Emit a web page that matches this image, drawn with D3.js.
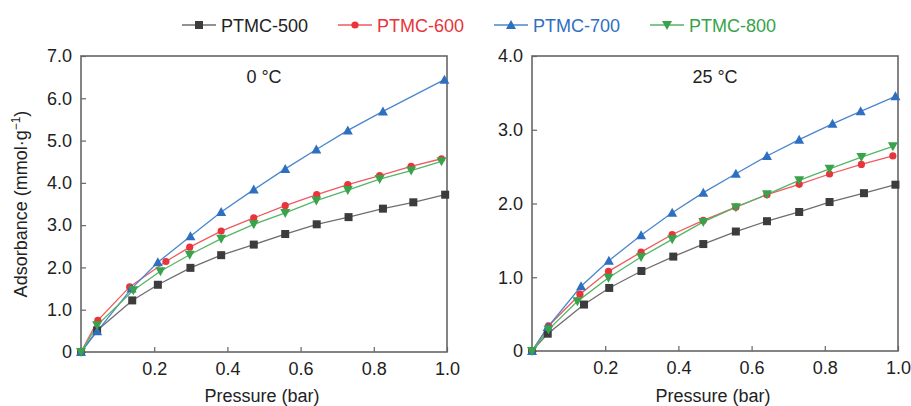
<!DOCTYPE html>
<html>
<head>
<meta charset="utf-8">
<script src="https://cdn.jsdelivr.net/npm/d3@7"></script>
<style>
  html, body { margin: 0; padding: 0; background: #fff; }
  svg { display: block; font-family: "Liberation Sans", Arial, sans-serif; }
</style>
</head>
<body>
<svg id="chart" width="911" height="406"></svg>
<script>
// Series names and colours
const seriesNames = ["PTMC-500", "PTMC-600", "PTMC-700", "PTMC-800"];
const seriesColors = ["#3c3c3c", "#e8343a", "#2e6fc0", "#38a34a"];
const lineColors = ["#6e6e6e", "#ee5a5f", "#4a86cf", "#55b566"];
const markerShapes = ["square", "circle", "triangle", "triangleDown"];

// 0 °C isotherms: pressure (bar) and uptake (mmol/g)
const p0_500 = [0, 0.044, 0.140, 0.210, 0.299, 0.383, 0.472, 0.558, 0.644, 0.731, 0.825, 0.908, 0.995];
const q0_500 = [0, 0.51, 1.22, 1.59, 1.99, 2.29, 2.54, 2.79, 3.02, 3.19, 3.39, 3.54, 3.72];
const p0_600 = [0, 0.046, 0.133, 0.232, 0.297, 0.383, 0.472, 0.558, 0.644, 0.729, 0.816, 0.902, 0.985];
const q0_600 = [0, 0.75, 1.54, 2.14, 2.48, 2.86, 3.17, 3.46, 3.72, 3.96, 4.17, 4.39, 4.57];
const p0_700 = [0, 0.044, 0.138, 0.210, 0.299, 0.383, 0.472, 0.558, 0.643, 0.729, 0.825, 0.993];
const q0_700 = [0, 0.49, 1.50, 2.12, 2.74, 3.31, 3.84, 4.33, 4.79, 5.24, 5.69, 6.44];
const p0_800 = [0, 0.044, 0.143, 0.217, 0.297, 0.383, 0.472, 0.558, 0.643, 0.729, 0.816, 0.902, 0.985];
const q0_800 = [0, 0.63, 1.46, 1.91, 2.30, 2.68, 3.02, 3.29, 3.58, 3.83, 4.09, 4.29, 4.51];

// 25 °C isotherms
const p25_500 = [0, 0.043, 0.142, 0.211, 0.299, 0.386, 0.468, 0.557, 0.642, 0.730, 0.813, 0.907, 0.993];
const q25_500 = [0, 0.235, 0.63, 0.855, 1.085, 1.28, 1.45, 1.62, 1.76, 1.885, 2.02, 2.14, 2.255];
const p25_600 = [0, 0.045, 0.131, 0.209, 0.298, 0.383, 0.468, 0.557, 0.642, 0.730, 0.813, 0.900, 0.986];
const q25_600 = [0, 0.34, 0.77, 1.08, 1.34, 1.58, 1.77, 1.95, 2.12, 2.26, 2.40, 2.53, 2.645];
const p25_700 = [0, 0.043, 0.134, 0.210, 0.298, 0.383, 0.468, 0.557, 0.642, 0.730, 0.821, 0.898, 0.993];
const q25_700 = [0, 0.325, 0.877, 1.225, 1.57, 1.875, 2.147, 2.404, 2.644, 2.866, 3.08, 3.25, 3.453];
const p25_800 = [0, 0.045, 0.124, 0.209, 0.298, 0.383, 0.468, 0.557, 0.642, 0.730, 0.813, 0.900, 0.986];
const q25_800 = [0, 0.29, 0.673, 0.994, 1.275, 1.514, 1.75, 1.95, 2.124, 2.314, 2.47, 2.63, 2.775];

// Axis ticks
const xTicks = [0.2, 0.4, 0.6, 0.8, 1.0];
const yTicks0 = [0, 1, 2, 3, 4, 5, 6, 7];
const yTicks25 = [0, 1, 2, 3, 4];

const panels = [
  { title: "0 °C", yMax: 7, yTicks: yTicks0, left: 81, right: 447, top: 56, bottom: 352,
    series: [[p0_500, q0_500], [p0_600, q0_600], [p0_700, q0_700], [p0_800, q0_800]] },
  { title: "25 °C", yMax: 4, yTicks: yTicks25, left: 532, right: 898, top: 56, bottom: 351,
    series: [[p25_500, q25_500], [p25_600, q25_600], [p25_700, q25_700], [p25_800, q25_800]] }
];

const svg = d3.select("#chart");
const fmt = v => v === 0 ? "0" : d3.format(".1f")(v);

function drawMarker(g, shape, x, y, color) {
  if (shape === "square") {
    g.append("rect").attr("x", x - 4).attr("y", y - 4).attr("width", 8).attr("height", 8).attr("fill", color);
  } else if (shape === "circle") {
    g.append("circle").attr("cx", x).attr("cy", y).attr("r", 3.6).attr("fill", color);
  } else if (shape === "triangle") {
    g.append("path").attr("d", `M${x},${y - 5}L${x + 5},${y + 4}L${x - 5},${y + 4}Z`).attr("fill", color);
  } else {
    g.append("path").attr("d", `M${x},${y + 5}L${x + 5},${y - 4}L${x - 5},${y - 4}Z`).attr("fill", color);
  }
}

panels.forEach(pn => {
  const x = d3.scaleLinear().domain([0, 1]).range([pn.left, pn.right]);
  const y = d3.scaleLinear().domain([0, pn.yMax]).range([pn.bottom, pn.top]);
  const g = svg.append("g");

  // Y axis with inward ticks
  const ya = g.append("g").attr("transform", `translate(${pn.left},0)`)
    .call(d3.axisLeft(y).tickValues(pn.yTicks).tickFormat(fmt).tickSizeInner(-5).tickSizeOuter(0).tickPadding(9));
  ya.select(".domain").remove();
  ya.selectAll(".tick line").attr("stroke", "#666").attr("stroke-width", 1.2);
  ya.selectAll(".tick text").attr("font-size", 18).attr("fill", "#222").attr("font-family", "Liberation Sans, Arial, sans-serif");

  // X axis with inward ticks
  const xa = g.append("g").attr("transform", `translate(0,${pn.bottom})`)
    .call(d3.axisBottom(x).tickValues(xTicks).tickFormat(fmt).tickSizeInner(-5).tickSizeOuter(0).tickPadding(10));
  xa.select(".domain").remove();
  xa.selectAll(".tick line").attr("stroke", "#666").attr("stroke-width", 1.2);
  xa.selectAll(".tick text").attr("font-size", 18).attr("fill", "#222").attr("font-family", "Liberation Sans, Arial, sans-serif");

  // Frame
  g.append("rect").attr("x", pn.left).attr("y", pn.top)
    .attr("width", pn.right - pn.left).attr("height", pn.bottom - pn.top)
    .attr("fill", "none").attr("stroke", "#666").attr("stroke-width", 1.6);

  // Panel title
  g.append("text").attr("x", (pn.left + pn.right) / 2).attr("y", 83)
    .attr("text-anchor", "middle").attr("font-size", 18).attr("fill", "#222").text(pn.title);

  // X axis title
  g.append("text").attr("x", (pn.left + pn.right) / 2 - 2).attr("y", 402)
    .attr("text-anchor", "middle").attr("font-size", 18).attr("fill", "#222").text("Pressure (bar)");

  const line = d3.line().x(d => x(d[0])).y(d => y(d[1]));
  pn.series.forEach((s, i) => {
    const pts = s[0].map((pv, k) => [pv, s[1][k]]);
    g.append("path").datum(pts).attr("d", line)
      .attr("fill", "none").attr("stroke", lineColors[i]).attr("stroke-width", 1.3);
  });
  pn.series.forEach((s, i) => {
    const mg = g.append("g");
    s[0].forEach((pv, k) => drawMarker(mg, markerShapes[i], x(pv), y(s[1][k]), seriesColors[i]));
  });
});

// Y axis title (left panel)
svg.append("text")
  .attr("transform", "translate(27,204) rotate(-90)")
  .attr("text-anchor", "middle").attr("font-size", 18).attr("fill", "#222")
  .text("Adsorbance (mmol·g")
  .append("tspan").attr("dy", -7).attr("font-size", 12).text("−1")
  .select(function () { return this.parentNode; })
  .append("tspan").attr("dy", 7).text(")");

// Legend
const legendX = [182, 338, 494, 650];
const legend = svg.append("g");
seriesNames.forEach((name, i) => {
  const lx = legendX[i], ly = 25;
  legend.append("line").attr("x1", lx).attr("x2", lx + 34).attr("y1", ly).attr("y2", ly)
    .attr("stroke", lineColors[i]).attr("stroke-width", 1.3);
  drawMarker(legend, markerShapes[i], lx + 17, ly, seriesColors[i]);
  legend.append("text").attr("x", lx + 39).attr("y", ly + 6.5)
    .attr("font-size", 18).attr("fill", i === 0 ? "#222" : seriesColors[i]).text(name);
});
</script>
</body>
</html>
